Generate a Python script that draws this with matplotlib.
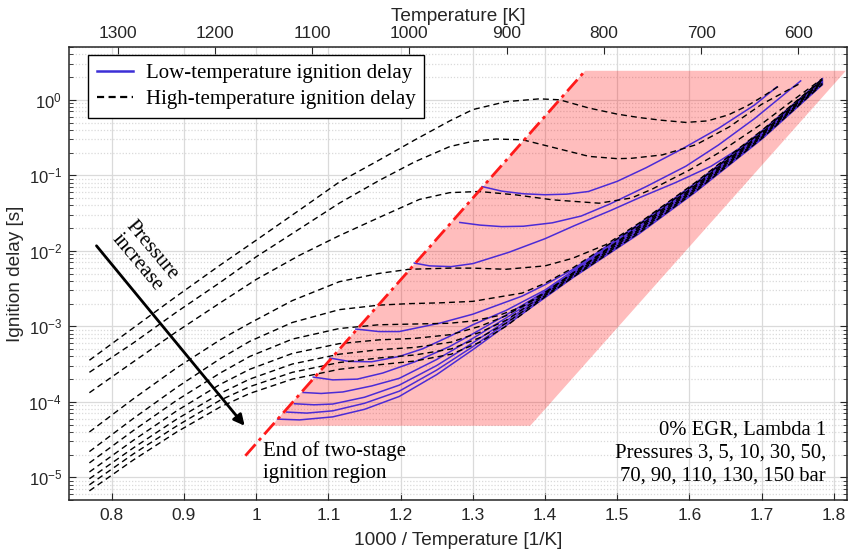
import numpy as np
import matplotlib
matplotlib.use("Agg")
import matplotlib.pyplot as plt
from matplotlib.lines import Line2D
from matplotlib.ticker import LogLocator, NullFormatter, FixedLocator

plt.rcParams['font.family'] = ['Liberation Sans', 'DejaVu Sans']
plt.rcParams['mathtext.fontset'] = 'custom'
plt.rcParams['mathtext.rm'] = 'Liberation Sans'
plt.rcParams['mathtext.it'] = 'Liberation Sans:italic'
SERIF = ['Liberation Serif', 'DejaVu Serif']

# ---------------------------------------------------------------- data
pressures_bar = [3, 5, 10, 30, 50, 70, 90, 110, 130, 150]

# high-temperature ignition delay: x = 1000/T [1/K], y = log10(delay [s])
ht_x = [
    [0.769, 0.83, 0.89, 0.95, 1.00, 1.06, 1.115, 1.17, 1.22, 1.268, 1.30, 1.346,
     1.392, 1.42, 1.461, 1.50, 1.53, 1.56, 1.595, 1.625, 1.654, 1.68, 1.701, 1.723],
    [0.769, 0.83, 0.89, 0.95, 1.00, 1.06, 1.115, 1.17, 1.22, 1.268, 1.30, 1.332,
     1.369, 1.415, 1.461, 1.50, 1.52, 1.5625, 1.609, 1.655, 1.70, 1.754],
    [0.769, 0.83, 0.89, 0.95, 1.00, 1.06, 1.115, 1.17, 1.226, 1.268, 1.309, 1.36,
     1.41, 1.475, 1.52, 1.549, 1.60, 1.641, 1.70, 1.74, 1.784],
    [0.769, 0.83, 0.89, 0.95, 0.991, 1.05, 1.115, 1.17, 1.212, 1.268, 1.30, 1.346,
     1.40, 1.438, 1.484, 1.53, 1.609, 1.701, 1.784],
    [0.769, 0.83, 0.89, 0.95, 0.991, 1.05, 1.115, 1.17, 1.212, 1.2537, 1.30, 1.3684,
     1.40, 1.438, 1.53, 1.609, 1.701, 1.784],
    [0.769, 0.83, 0.89, 0.95, 0.991, 1.05, 1.115, 1.17, 1.22, 1.2675, 1.30, 1.335,
     1.3684, 1.40, 1.438, 1.53, 1.609, 1.701, 1.784],
    [0.769, 0.83, 0.89, 0.95, 0.991, 1.05, 1.115, 1.17, 1.22, 1.27, 1.31, 1.346,
     1.40, 1.438, 1.53, 1.609, 1.701, 1.784],
    [0.769, 0.83, 0.89, 0.95, 0.991, 1.05, 1.115, 1.17, 1.22, 1.27, 1.31, 1.346,
     1.40, 1.438, 1.53, 1.609, 1.701, 1.784],
    [0.769, 0.83, 0.89, 0.95, 0.991, 1.05, 1.115, 1.17, 1.22, 1.27, 1.31, 1.346,
     1.40, 1.438, 1.53, 1.609, 1.701, 1.784],
    [0.769, 0.83, 0.89, 0.95, 0.991, 1.05, 1.115, 1.17, 1.22, 1.27, 1.31, 1.346,
     1.40, 1.438, 1.53, 1.609, 1.701, 1.784],
]
ht_log_delay = [
    [-3.45, -3.02, -2.60, -2.19, -1.86, -1.46, -1.09, -0.80, -0.53, -0.28, -0.13, -0.025,
     0.012, 0.0, -0.11, -0.19, -0.235, -0.27, -0.30, -0.28, -0.20, -0.08, 0.04, 0.176],
    [-3.61, -3.22, -2.81, -2.42, -2.08, -1.71, -1.37, -1.07, -0.82, -0.62, -0.55, -0.52,
     -0.53, -0.64, -0.75, -0.78, -0.775, -0.73, -0.596, -0.36, -0.06, 0.22],
    [-3.88, -3.47, -3.07, -2.69, -2.38, -2.06, -1.80, -1.56, -1.32, -1.23, -1.215, -1.26,
     -1.325, -1.37, -1.30, -1.18, -0.93, -0.70, -0.32, -0.03, 0.28],
    [-4.40, -3.96, -3.55, -3.18, -2.96, -2.66, -2.41, -2.30, -2.245, -2.23, -2.23, -2.245,
     -2.20, -2.10, -1.92, -1.635, -1.09, -0.400, 0.275],
    [-4.66, -4.22, -3.81, -3.43, -3.20, -2.95, -2.78, -2.72, -2.70, -2.69, -2.67, -2.56,
     -2.43, -2.23, -1.655, -1.108, -0.416, 0.264],
    [-4.81, -4.38, -3.98, -3.62, -3.40, -3.17, -3.03, -2.98, -2.97, -2.96, -2.93, -2.86,
     -2.74, -2.56, -2.30, -1.677, -1.128, -0.434, 0.252],
    [-4.93, -4.51, -4.12, -3.77, -3.57, -3.36, -3.23, -3.18, -3.16, -3.11, -3.00, -2.86,
     -2.55, -2.30, -1.699, -1.148, -0.452, 0.240],
    [-5.02, -4.61, -4.23, -3.89, -3.70, -3.50, -3.37, -3.31, -3.28, -3.21, -3.08, -2.92,
     -2.575, -2.32, -1.721, -1.168, -0.470, 0.229],
    [-5.10, -4.69, -4.32, -3.98, -3.80, -3.61, -3.48, -3.42, -3.38, -3.30, -3.15, -2.96,
     -2.595, -2.34, -1.743, -1.188, -0.488, 0.217],
    [-5.18, -4.77, -4.40, -4.07, -3.89, -3.70, -3.57, -3.51, -3.46, -3.37, -3.21, -3.00,
     -2.61, -2.355, -1.765, -1.208, -0.506, 0.205],
]

# low-temperature (first-stage) ignition delay
lt_x = [
    [1.313, 1.34, 1.37, 1.40, 1.43, 1.46, 1.50, 1.54, 1.59, 1.64, 1.69, 1.721],
    [1.282, 1.31, 1.34, 1.37, 1.41, 1.45, 1.49, 1.54, 1.595, 1.64, 1.69, 1.754],
    [1.219, 1.24, 1.27, 1.30, 1.35, 1.40, 1.44, 1.49, 1.53, 1.58, 1.63, 1.68, 1.73, 1.784],
    [1.138, 1.17, 1.198, 1.2537, 1.30, 1.3684, 1.40, 1.438, 1.53, 1.609, 1.701, 1.784],
    [1.102, 1.129, 1.16, 1.198, 1.23, 1.2675, 1.30, 1.346, 1.40, 1.438, 1.53, 1.609, 1.701, 1.784],
    [1.079, 1.106, 1.14, 1.175, 1.22, 1.2675, 1.30, 1.346, 1.40, 1.438, 1.53, 1.609, 1.701, 1.784],
    [1.065, 1.09, 1.12, 1.16, 1.198, 1.25, 1.30, 1.346, 1.40, 1.438, 1.53, 1.609, 1.701, 1.784],
    [1.053, 1.08, 1.106, 1.15, 1.198, 1.25, 1.30, 1.346, 1.40, 1.438, 1.53, 1.609, 1.701, 1.784],
    [1.042, 1.07, 1.106, 1.15, 1.198, 1.25, 1.30, 1.346, 1.40, 1.438, 1.53, 1.609, 1.701, 1.784],
    [1.030, 1.06, 1.106, 1.15, 1.198, 1.25, 1.30, 1.346, 1.40, 1.438, 1.53, 1.609, 1.701, 1.784],
]
lt_log_delay = [
    [-1.15, -1.21, -1.245, -1.258, -1.25, -1.215, -1.08, -0.90, -0.65, -0.38, -0.07, 0.17],
    [-1.625, -1.66, -1.68, -1.675, -1.63, -1.54, -1.38, -1.15, -0.88, -0.60, -0.25, 0.25],
    [-2.163, -2.20, -2.21, -2.17, -2.02, -1.84, -1.67, -1.47, -1.30, -1.10, -0.88, -0.58, -0.19, 0.28],
    [-3.037, -3.07, -3.07, -2.96, -2.84, -2.60, -2.45, -2.25, -1.645, -1.098, -0.407, 0.270],
    [-3.421, -3.466, -3.47, -3.40, -3.30, -3.135, -2.98, -2.79, -2.52, -2.27, -1.666, -1.118, -0.425, 0.258],
    [-3.673, -3.71, -3.70, -3.62, -3.47, -3.27, -3.10, -2.85, -2.54, -2.29, -1.688, -1.138, -0.443, 0.246],
    [-3.877, -3.89, -3.87, -3.79, -3.69, -3.44, -3.16, -2.89, -2.56, -2.31, -1.710, -1.158, -0.461, 0.235],
    [-4.026, -4.04, -4.03, -3.94, -3.78, -3.52, -3.22, -2.93, -2.58, -2.325, -1.732, -1.178, -0.479, 0.223],
    [-4.136, -4.15, -4.12, -4.02, -3.86, -3.58, -3.27, -2.96, -2.60, -2.34, -1.754, -1.198, -0.497, 0.211],
    [-4.23, -4.24, -4.20, -4.10, -3.93, -3.64, -3.31, -2.99, -2.62, -2.36, -1.776, -1.218, -0.515, 0.199],
]

# boundary of the two-stage ignition region
boundary_x = [0.985, 1.4556]
boundary_log_delay = [-4.715, 0.384]
region_x = [1.0213, 1.4556, 1.8166, 1.3795]
region_log_delay = [-4.318, 0.384, 0.384, -4.318]

temp_ticks_K = [1300, 1200, 1100, 1000, 900, 800, 700, 600]
inv_T_ticks = [0.8, 0.9, 1.0, 1.1, 1.2, 1.3, 1.4, 1.5, 1.6, 1.7, 1.8]
inv_T_labels = ['0.8', '0.9', '1', '1.1', '1.2', '1.3', '1.4', '1.5', '1.6', '1.7', '1.8']
delay_ticks = [1e-5, 1e-4, 1e-3, 1e-2, 1e-1, 1e0]

# ---------------------------------------------------------------- figure
fig = plt.figure(figsize=(8.48, 5.53), dpi=100)
ax = fig.add_axes([69 / 848, 1 - 500 / 553, (847 - 69) / 848, (500 - 47) / 553])
ax.set_yscale('log')
ax.set_xlim(1000 / 1350, 1000 / 550)
ax.set_ylim(5e-6, 5)

grid_c = '#dadada'
ax.set_xticks(inv_T_ticks)
ax.set_xticklabels(inv_T_labels)
ax.yaxis.set_major_locator(FixedLocator(delay_ticks))
ax.yaxis.set_minor_locator(LogLocator(base=10, subs=np.arange(2, 10), numticks=20))
ax.yaxis.set_minor_formatter(NullFormatter())
ax.grid(True, which='major', color=grid_c, lw=0.9, zorder=0)
ax.grid(True, which='minor', axis='y', color=grid_c, lw=0.9, ls=(0, (1, 1.5)), zorder=0)
ax.set_axisbelow(True)

ax.tick_params(which='both', direction='in', top=True, right=True,
               labelsize=12.5, colors='#262626', pad=6)
ax.tick_params(axis='y', labelsize=12, pad=5)
ax.tick_params(which='major', length=5)
ax.tick_params(which='minor', length=3)
for s in ax.spines.values():
    s.set_color('#262626')
    s.set_linewidth(1.1)

# two-stage ignition region
ax.fill(region_x, 10 ** np.array(region_log_delay), color='#ff0000', alpha=0.26,
        lw=0, zorder=1)

# curves
lt_color = '#4b2bd6'
for xs, ys in zip(lt_x, lt_log_delay):
    ax.plot(xs, 10 ** np.array(ys), color=lt_color, lw=1.1, zorder=3)
for xs, ys in zip(ht_x, ht_log_delay):
    ax.plot(xs, 10 ** np.array(ys), color='black', lw=1.0, dashes=(4.3, 2.9), zorder=4)

ax.plot(boundary_x, 10 ** np.array(boundary_log_delay), color='#ff1a1a', lw=2.0,
        dashes=(5.5, 1.8, 1.2, 1.8), zorder=5)

# annotations
ax.annotate('', xy=(0.984, 10 ** -4.318), xytext=(0.7788, 10 ** -1.934),
            arrowprops=dict(arrowstyle='-|>', color='black', lw=2.0,
                            mutation_scale=16, shrinkA=0, shrinkB=0), zorder=6)
ax.text(0.8456, 10 ** -2.08, 'Pressure\nincrease', rotation=-50, rotation_mode='anchor',
        ha='center', va='center', multialignment='center', family=SERIF,
        fontsize=15, linespacing=1.0, zorder=6)
ax.text(1.0089, 10 ** -4.80, 'End of two-stage\nignition region', ha='left', va='center',
        family=SERIF, fontsize=15, linespacing=1.2, zorder=6)
ax.text(1.7889, 10 ** -4.68, '0% EGR, Lambda 1\nPressures 3, 5, 10, 30, 50,\n'
        '70, 90, 110, 130, 150 bar', ha='right', va='center', multialignment='right',
        family=SERIF, fontsize=14.9, linespacing=1.3, zorder=6)

handles = [Line2D([], [], color='#3c2fd6', lw=1.8),
           Line2D([], [], color='black', lw=1.6, dashes=(3.2, 2.0))]
leg = ax.legend(handles, ['Low-temperature ignition delay', 'High-temperature ignition delay'],
                loc='upper left', bbox_to_anchor=(0.0244, 0.982), borderaxespad=0,
                prop={'family': SERIF, 'size': 15}, fancybox=False, framealpha=1,
                edgecolor='black', handlelength=1.76, borderpad=0.42, labelspacing=0.28,
                handletextpad=0.59)
leg.get_frame().set_linewidth(1.0)
leg.set_zorder(10)

ax.set_xlabel('1000 / Temperature [1/K]', fontsize=13.7, color='#262626', labelpad=6)
ax.set_ylabel('Ignition delay [s]', fontsize=13.7, color='#262626')
ax.yaxis.set_label_coords(-0.058, 0.5)

# temperature scale on top
ax2 = ax.twiny()
ax2.set_xlim(1350, 550)
ax2.xaxis.set_major_locator(FixedLocator(temp_ticks_K))
ax2.tick_params(direction='in', length=5, labelsize=12.5, colors='#262626', pad=4)
for s in ax2.spines.values():
    s.set_visible(False)
ax2.set_xlabel('Temperature [K]', fontsize=13.7, color='#262626', labelpad=4)

fig.savefig('out.png', dpi=100)
